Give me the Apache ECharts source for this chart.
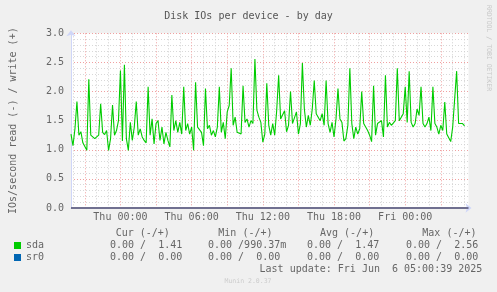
<!DOCTYPE html>
<html><head><meta charset="utf-8">
<script src="https://cdn.jsdelivr.net/npm/echarts@6/dist/echarts.min.js"></script>
<style>html,body{margin:0;padding:0;background:#F0F0F0;}#c{width:497px;height:292px;}</style>
</head><body><div id="c"></div>
<script>
const TITLE = 'Disk IOs per device - by day';
const Y_NAME = 'IOs/second read (-) / write (+)';
const START_MIN = -250;   // minutes from Thu 00:00 (Wed 19:50)
const STEP_MIN = 10;
const N_CATS = 202;
const DAY_NAMES = ['Wed', 'Thu', 'Fri'];
const Y_MIN = 0, Y_MAX = 3, Y_STEP = 0.5;

// sda write IOs/s, one value per 10 minutes
const sdaWrite = [
 1.27,1.07,1.36,1.83,1.25,1.31,1.12,1.10,0.99,2.21,
 1.25,1.22,1.19,1.16,1.25,1.79,1.30,1.26,1.33,0.99,
 1.19,1.77,1.25,1.33,1.50,2.36,1.15,2.46,1.19,0.99,
 1.47,1.16,1.39,1.83,1.25,1.36,1.22,1.16,1.12,2.08,
 1.25,1.53,1.10,1.45,1.50,1.16,1.39,1.10,1.30,
 1.16,1.05,1.94,1.33,1.50,1.30,1.47,1.27,2.08,1.33,
 1.45,1.27,1.39,0.99,2.16,1.39,1.42,1.30,1.07,2.05,
 1.36,1.42,1.25,1.33,1.22,1.39,2.08,1.30,1.47,1.19,
 1.65,1.76,2.40,1.42,1.56,1.30,1.33,1.27,2.10,1.47,
 1.53,1.39,1.50,1.45,2.56,1.68,1.56,1.47,1.13,1.27,
 2.14,
 1.42,1.25,1.45,1.25,1.67,2.28,1.53,1.50,1.67,1.31,
 1.42,2.00,1.45,1.42,1.65,1.27,1.45,2.49,1.70,1.39,
 1.59,1.42,1.70,2.19,1.62,1.62,1.50,1.62,1.42,2.19,
 1.45,1.30,1.47,1.22,1.53,2.05,1.53,1.47,1.15,1.19,
 1.42,2.40,1.45,1.19,1.39,1.27,1.36,2.00,1.45,1.39,
 1.33,1.25,1.14,2.10,1.25,1.45,1.42,1.50,1.22,2.28,
 1.39,1.47,1.42,1.39,1.50,2.40,1.50,1.56,1.62,2.08,
 1.47,2.35,1.47,1.39,1.45,1.70,1.59,2.08,1.45,1.39,
 1.45,1.56,1.33,2.08,1.45,1.39,1.27,1.42,1.33,1.82,
 1.27,1.25,1.14,1.39,1.42,2.35,1.45,1.42,1.45,1.41
];
const SERIES_NAMES = ['sda', 'sr0'];
const SERIES_COLORS = ['#00CC00', '#0066B3'];
const STAT_HEADERS = ['Cur (-/+)', 'Min (-/+)', 'Avg (-/+)', 'Max (-/+)'];
const sdaReadStats  = [0, 0, 0, 0];
const sdaWriteStats = [1.41, 0.99037, 1.47, 2.56];
const sr0ReadStats  = [0, 0, 0, 0];
const sr0WriteStats = [0, 0, 0, 0];
const LAST_UPDATE = 'Last update: Fri Jun  6 05:00:39 2025';
const FOOTER = 'Munin 2.0.37';
const WATERMARK = 'RRDTOOL / TOBI OETIKER';

const FONT = 'DejaVu Sans Mono';
const TXT = '#666666';

const cats = [];
for (let i = 0; i < N_CATS; i++) {
  const m = START_MIN + i * STEP_MIN;
  const d = Math.floor(m / 1440);
  const mm = m - d * 1440;
  const hh = Math.floor(mm / 60), mi = mm % 60;
  cats.push(DAY_NAMES[d + 1] + ' ' + String(hh).padStart(2, '0') + ':' + String(mi).padStart(2, '0'));
}
const minOf = idx => START_MIN + idx * STEP_MIN;
const every = (idx, n) => ((minOf(idx) % n) + n) % n === 0;

function fmt(v) { if (v === 0) return '0.00'; if (v < 1) return (v * 1000).toFixed(2) + 'm'; return v.toFixed(2); }
function statStr(r, w) { return fmt(r) + ' /' + fmt(w).padStart(6, ' '); }

const colX = [110, 208, 307, 406];
const headX = [115.7, 218.3, 320, 422.3];
const graphics = [];
STAT_HEADERS.forEach((h, k) => graphics.push({type: 'text', x: headX[k], y: 233.5,
  style: {text: h, font: '10px "' + FONT + '"', fill: TXT, textAlign: 'left', textVerticalAlign: 'middle'}}));
[[sdaReadStats, sdaWriteStats, 245], [sr0ReadStats, sr0WriteStats, 257.3]].forEach(([r, w, y]) => {
  for (let k = 0; k < 4; k++) graphics.push({type: 'text', x: colX[k], y: y,
    style: {text: statStr(r[k], w[k]), font: '10px "' + FONT + '"', fill: TXT, textAlign: 'left', textVerticalAlign: 'middle'}});
});
graphics.push({type: 'text', x: 482.3, y: 269.5,
  style: {text: LAST_UPDATE, font: '10px "' + FONT + '"', fill: TXT, textAlign: 'right', textVerticalAlign: 'middle'}});
graphics.push({type: 'text', x: 248, y: 281.5,
  style: {text: FOOTER, font: '6.5px "' + FONT + '"', fill: '#CCCCCC', textAlign: 'center', textVerticalAlign: 'middle'}});
graphics.push({type: 'text', x: 489, y: 5, rotation: -Math.PI / 2,
  style: {text: WATERMARK, font: '6.5px "' + FONT + '"', fill: '#C8C8C8', textAlign: 'left', textVerticalAlign: 'middle'}});

const chart = echarts.init(document.getElementById('c'), null, {renderer: 'canvas'});
chart.setOption({
  animation: false,
  backgroundColor: '#F0F0F0',
  title: {text: TITLE, left: 'center', top: 6, textStyle: {fontFamily: FONT, fontSize: 10, fontWeight: 'normal', color: '#555555'}},
  grid: {left: 67, right: 28.5, top: 33.3, bottom: 84, show: true, backgroundColor: '#FFFFFF', borderWidth: 0},
  legend: {orient: 'vertical', left: 14, top: 240, itemWidth: 7, itemHeight: 7, itemGap: 1, padding: 0, icon: 'rect',
    data: SERIES_NAMES.map((n, k) => ({name: n, itemStyle: {color: SERIES_COLORS[k]}})),
    textStyle: {fontFamily: FONT, fontSize: 10, color: TXT, lineHeight: 11, padding: [0, 0, 0, 0]}},
  xAxis: [
    {type: 'category', data: cats, boundaryGap: false, position: 'top',
     axisLine: {show: false}, axisTick: {show: false}, axisLabel: {show: false},
     splitLine: {show: true, interval: idx => every(idx, 60) && !every(idx, 180), lineStyle: {color: '#D0D0D0', type: [1, 2], width: 1}}},
    {type: 'category', data: cats, boundaryGap: false, position: 'bottom',
     axisLine: {show: true, symbol: ['none', 'arrow'], symbolSize: [7, 6], symbolOffset: [0, 3], lineStyle: {color: '#CFD6F8', width: 1}},
     axisTick: {show: false},
     axisLabel: {interval: idx => every(idx, 360), margin: 4, fontFamily: FONT, fontSize: 10, color: TXT},
     splitLine: {show: true, interval: idx => every(idx, 180), lineStyle: {color: '#F0A0A0', type: [1, 2], width: 1}}}
  ],
  yAxis: {type: 'value', min: Y_MIN, max: Y_MAX, interval: Y_STEP,
    name: Y_NAME, nameLocation: 'middle', nameGap: 53, nameRotate: 90,
    nameTextStyle: {fontFamily: FONT, fontSize: 10, color: TXT},
    axisLine: {show: true, symbol: ['none', 'arrow'], symbolSize: [7, 6], symbolOffset: [0, 3], lineStyle: {color: '#CFD6F8', width: 1}},
    axisTick: {show: false},
    axisLabel: {margin: 7, fontFamily: FONT, fontSize: 10, color: TXT, formatter: v => v.toFixed(1)},
    splitLine: {show: true, lineStyle: {color: '#F0A0A0', type: [1, 2], width: 1}},
    minorTick: {show: false, splitNumber: 5},
    minorSplitLine: {show: true, lineStyle: {color: '#D8D8D8', type: [1, 2], width: 1}}
  },
  graphic: graphics,
  series: [
    {name: SERIES_NAMES[0], type: 'line', xAxisIndex: 1, data: sdaWrite, showSymbol: false, symbol: 'none',
     itemStyle: {color: SERIES_COLORS[0]}, lineStyle: {color: SERIES_COLORS[0], width: 1.1}, z: 5},
    {name: SERIES_NAMES[1], type: 'line', xAxisIndex: 1, data: [], showSymbol: false, symbol: 'none',
     itemStyle: {color: SERIES_COLORS[1]}, lineStyle: {color: SERIES_COLORS[1], width: 1}, z: 4,
     markLine: {silent: true, symbol: ['none', 'none'], label: {show: false},
       lineStyle: {color: '#707090', width: 2, type: 'solid'}, data: [{yAxis: 0}]}}
  ]
});
</script></body></html>
